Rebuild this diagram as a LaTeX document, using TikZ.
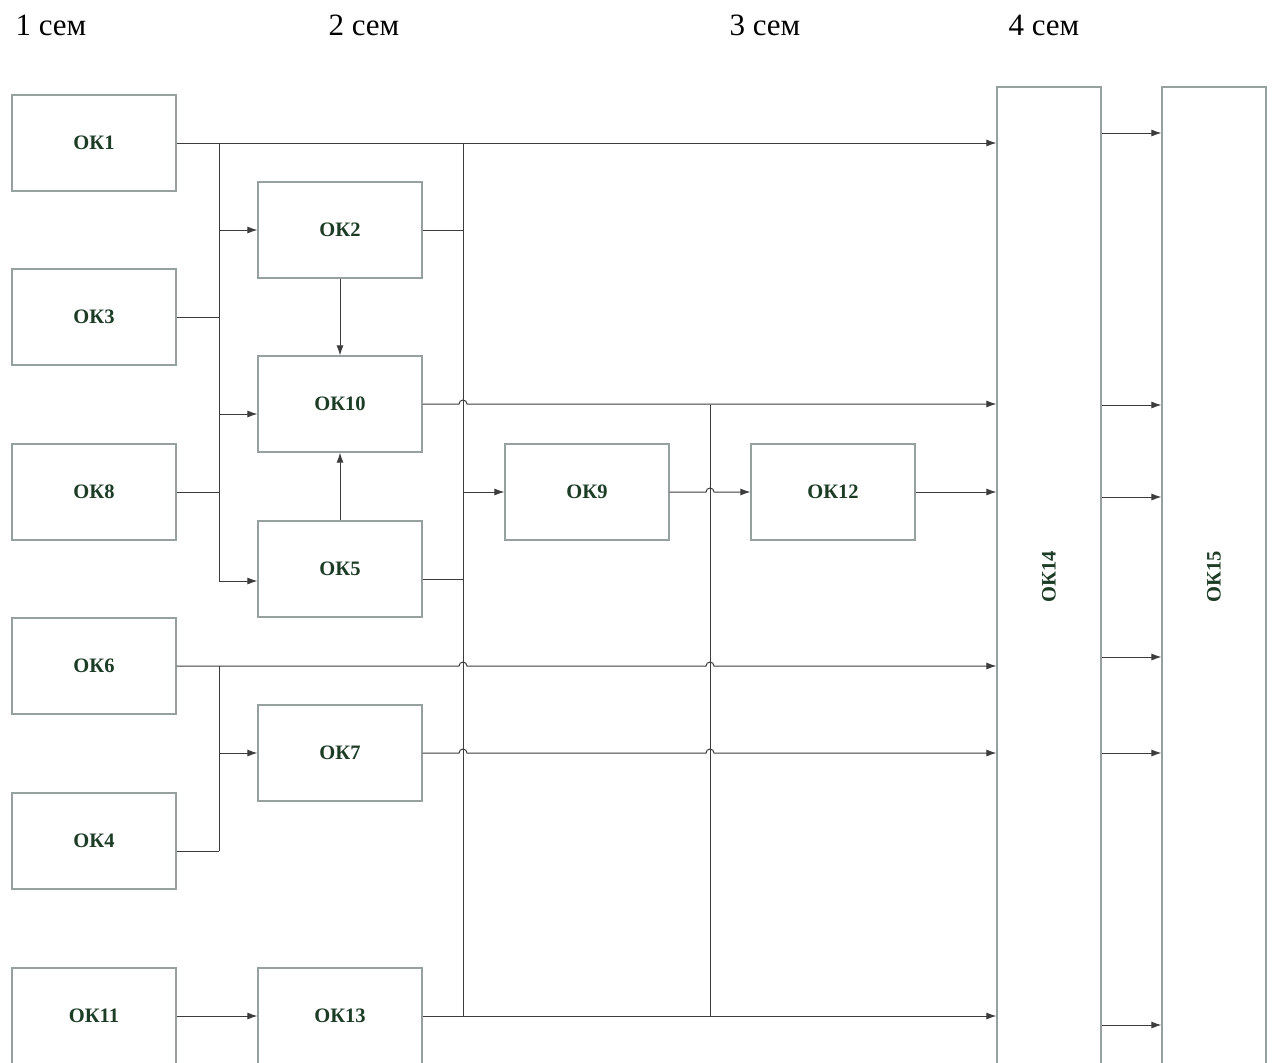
\documentclass[tikz,border=0pt]{standalone}
\usepackage{fontspec}
\setmainfont{Liberation Serif}
\usepackage{tikz}
\usetikzlibrary{arrows.meta, positioning, calc}
\definecolor{okGreen}{RGB}{28,60,38}
\definecolor{okFrame}{RGB}{150,160,158}
\definecolor{okLine}{RGB}{60,60,60}

% small bump where a line jumps over a vertical bus
\newcommand{\hopover}[1]{-- ($(#1)+(-4,0)$) arc[start angle=180, end angle=360, radius=4]}

\begin{document}
\begin{tikzpicture}[
    x=1pt, y=-1pt, font=\rmfamily,
    okbox/.style   = {draw=okFrame, line width=1.2pt, fill=white, inner sep=0pt,
                      minimum width=164pt, minimum height=96pt,
                      text=okGreen, font=\rmfamily\bfseries\fontsize{20.5}{24}\selectfont},
    tallbox/.style = {okbox, minimum width=104pt, minimum height=980pt},
    sem/.style     = {anchor=base west, font=\rmfamily\fontsize{31}{36}\selectfont},
    link/.style    = {draw=okLine, line width=1pt},
    flow/.style    = {link, -{Latex[length=10pt,width=7pt]}}
]
\useasboundingbox (0,0) rectangle (1273,1062);

% semester headings
\node[sem] (s1) at (12,36)   {1 сем};
\node[sem] (s2) at (325,36)  {2 сем};
\node[sem] (s3) at (726,36)  {3 сем};
\node[sem] (s4) at (1005,36) {4 сем};

% first column
\node[okbox] (OK1)  at (94,143)  {ОК1};
\node[okbox] (OK3)  at (94,317)  {ОК3};
\node[okbox] (OK8)  at (94,492)  {ОК8};
\node[okbox] (OK6)  at (94,666)  {ОК6};
\node[okbox] (OK4)  at (94,841)  {ОК4};
\node[okbox] (OK11) at (94,1016) {ОК11};

% second column
\node[okbox] (OK2)  at (340,230)  {ОК2};
\node[okbox] (OK10) at (340,404)  {ОК10};
\node[okbox] (OK5)  at (340,569)  {ОК5};
\node[okbox] (OK7)  at (340,753)  {ОК7};
\node[okbox] (OK13) at (340,1016) {ОК13};

% third column
\node[okbox] (OK9)  at (587,492) {ОК9};
\node[okbox] (OK12) at (833,492) {ОК12};

% final blocks
\node[tallbox] (OK14) at (1049,577) {\rotatebox{90}{ОК14}};
\node[tallbox] (OK15) at (1214,577) {\rotatebox{90}{ОК15}};

% vertical buses
\coordinate (busA) at (219,143);
\coordinate (busB) at (463,143);
\coordinate (busC) at (710,405);
\coordinate (busD) at (219,666);
\coordinate (busEnd) at (463,1016);

\draw[link] (busA) -- ($(busA |- OK5.west)+(0,12)$);
\draw[link] (busB) -- (busEnd);
\draw[link] (busC) -- (busC |- busEnd);
\draw[link] (busD) -- (busD |- 0,851);

% into bus A
\draw[link] (OK3.east) -- (busA |- OK3.east);
\draw[link] (OK8.east) -- (busA |- OK8.east);
\draw[flow] (busA |- OK2.west) -- (OK2.west);
\draw[flow] ($(busA |- OK10.west)+(0,10)$) -- ($(OK10.west)+(0,10)$);
\draw[flow] ($(busA |- OK5.west)+(0,12)$) -- ($(OK5.west)+(0,12)$);

% inside the second column
\draw[flow] (OK2.south) -- (OK10.north);
\draw[flow] (OK5.north) -- (OK10.south);

% into bus B
\draw[link] (OK2.east) -- (busB |- OK2.east);
\draw[link] ($(OK5.east)+(0,10)$) -- ($(busB |- OK5.east)+(0,10)$);
\draw[flow] (busB |- OK9.west) -- (OK9.west);

% lines to OK14
\draw[flow] (OK1.east) -- (OK14.west |- OK1.east);
\draw[flow] (OK10.east) \hopover{busB |- OK10.east} -- (OK14.west |- OK10.east);
\draw[flow] (OK9.east) \hopover{busC |- OK9.east} -- (OK12.west);
\draw[flow] (OK12.east) -- (OK14.west |- OK12.east);
\draw[flow] (OK6.east) \hopover{busB |- OK6.east} \hopover{busC |- OK6.east}
    -- (OK14.west |- OK6.east);
\draw[flow] (OK7.east) \hopover{busB |- OK7.east} \hopover{busC |- OK7.east}
    -- (OK14.west |- OK7.east);
\draw[flow] (OK13.east) -- (OK14.west |- OK13.east);

% bus D into OK7
\draw[link] (OK4.east |- 0,851) -- (busD |- 0,851);
\draw[flow] (busD |- OK7.west) -- (OK7.west);
\draw[flow] (OK11.east) -- (OK13.west);

% OK14 to OK15
\foreach \yy in {133,405,497,657,753,1025}
    \draw[flow] (OK14.east |- 0,\yy) -- (OK15.west |- 0,\yy);

\end{tikzpicture}
\end{document}
